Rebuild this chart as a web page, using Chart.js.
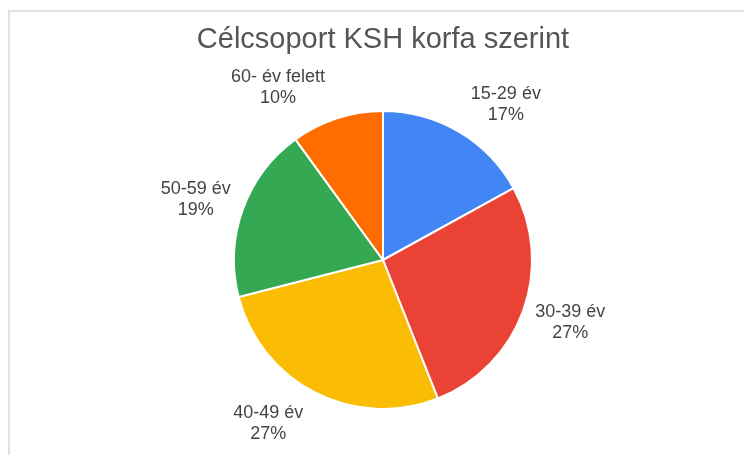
<!DOCTYPE html>
<html>
<head>
<meta charset="utf-8">
<script src="https://cdn.jsdelivr.net/npm/chart.js@4"></script>
<style>
  html, body { margin: 0; padding: 0; background: #fff; }
  #wrap { position: relative; width: 744px; height: 455px; overflow: hidden; }
  #frame { position: absolute; left: 8px; top: 10px; width: 800px; height: 500px; border: 2px solid #e2e2e2; }
  canvas { position: absolute; left: 0; top: 0; }
</style>
</head>
<body>
<div id="wrap">
  <div id="frame"></div>
  <canvas id="chart" width="744" height="455"></canvas>
</div>
<script>
const categories = ["15-29 év", "30-39 év", "40-49 év", "50-59 év", "60- év felett"];
const shares = [17, 27, 27, 19, 10];
const colors = ["#4285f4", "#ea4335", "#fbbc04", "#34a853", "#ff6d01"];

const FONT = "'Liberation Sans', Arial, sans-serif";

// labels outside the slices, two lines: name + percent
const outsideLabels = {
  id: "outsideLabels",
  afterDatasetsDraw(chart) {
    const ctx = chart.ctx;
    const meta = chart.getDatasetMeta(0);
    const data = chart.data.datasets[0].data;
    const total = data.reduce((a, b) => a + b, 0);
    ctx.save();
    ctx.font = "18px " + FONT;
    ctx.fillStyle = "#444";
    ctx.textAlign = "center";
    ctx.textBaseline = "middle";
    meta.data.forEach((arc, i) => {
      const p = arc.getProps(["x", "y", "startAngle", "endAngle", "outerRadius"], true);
      const mid = (p.startAngle + p.endAngle) / 2;
      const ax = p.x + Math.cos(mid) * p.outerRadius;
      const ay = p.y + Math.sin(mid) * p.outerRadius;
      const lines = [chart.data.labels[i], Math.round((data[i] / total) * 100) + "%"];
      const w = Math.max(...lines.map(l => ctx.measureText(l).width));
      const cx = ax + Math.sign(Math.cos(mid)) * (w / 2 + 12);
      const cy = ay + Math.sin(mid) * 33 + 1;
      ctx.fillText(lines[0], cx, cy - 10.5);
      ctx.fillText(lines[1], cx, cy + 10.5);
    });
    ctx.restore();
  }
};

new Chart(document.getElementById("chart").getContext("2d"), {
  type: "pie",
  data: {
    labels: categories,
    datasets: [
      {
        data: shares,
        backgroundColor: colors,
        borderColor: "#fff",
        borderWidth: 2
      }
    ]
  },
  options: {
    responsive: false,
    animation: false,
    layout: { padding: { left: 22, right: 0, top: 0, bottom: 45 } },
    plugins: {
      legend: { display: false },
      tooltip: { enabled: false },
      title: {
        display: true,
        text: "Célcsoport KSH korfa szerint",
        color: "#555",
        font: { family: FONT, size: 29, weight: "normal" },
        padding: { top: 22.6, bottom: 52.6 }
      }
    }
  },
  plugins: [outsideLabels]
});
</script>
</body>
</html>
